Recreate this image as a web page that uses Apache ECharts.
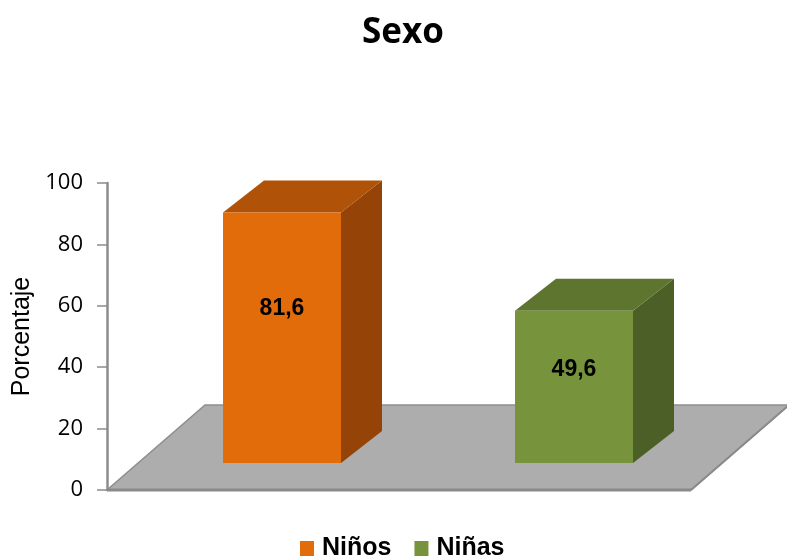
<!DOCTYPE html>
<html>
<head>
<meta charset="utf-8">
<script src="https://cdn.jsdelivr.net/npm/echarts@6/dist/echarts.min.js"></script>
<style>
html,body{margin:0;padding:0;background:#fff;}
#chart{width:787px;height:560px;}
</style>
</head>
<body>
<div id="chart"></div>
<script>
var categories = ['Niños', 'Niñas'];
var values = [81.6, 49.6];
var frontColors = ['#E36C0A', '#77933C'];
var topColors = ['#B05207', '#5E7530'];
var sideColors = ['#954306', '#4B5F26'];
var yTicks = [0, 20, 40, 60, 80, 100];

var DEPTH_SHIFT = [29, -27];   // bar placement inside the floor depth
var BAR_DEPTH = [41, -32];     // bar 3D depth
var FLOOR_DEPTH = [98, -85];   // floor depth
var BAR_W = 118;

function fmt(v) { return v.toFixed(1).replace('.', ','); }

function renderFloor(params, api) {
  var cs = params.coordSys;
  var x0 = cs.x, x1 = cs.x + cs.width, y = cs.y + cs.height;
  var pts = [[x0, y], [x1, y], [x1 + FLOOR_DEPTH[0], y + FLOOR_DEPTH[1]], [x0 + FLOOR_DEPTH[0], y + FLOOR_DEPTH[1]]];
  return {
    type: 'group',
    children: [
      { type: 'polygon', shape: { points: pts }, style: { fill: '#ADADAD', stroke: '#8E8E8E', lineWidth: 1.5 } },
      { type: 'line', shape: { x1: x0, y1: y, x2: x1, y2: y }, style: { stroke: '#8A8A8A', lineWidth: 3 } },
      { type: 'line', shape: { x1: x1, y1: y, x2: x1 + FLOOR_DEPTH[0], y2: y + FLOOR_DEPTH[1] }, style: { stroke: '#8A8A8A', lineWidth: 2 } }
    ]
  };
}

function makeBarRenderer(i) {
  return function (params, api) {
    var idx = api.value(0), val = api.value(1);
    var base = api.coord([idx, 0]);
    var top = api.coord([idx, val]);
    var x0 = base[0] + DEPTH_SHIFT[0] - BAR_W / 2, x1 = x0 + BAR_W;
    var yb = base[1] + DEPTH_SHIFT[1], yt = top[1] + DEPTH_SHIFT[1];
    var dx = BAR_DEPTH[0], dy = BAR_DEPTH[1];
    return {
      type: 'group',
      children: [
        { type: 'polygon', shape: { points: [[x1, yt], [x1, yb], [x1 + dx, yb + dy], [x1 + dx, yt + dy]] }, style: { fill: sideColors[i] } },
        { type: 'polygon', shape: { points: [[x0, yt], [x1, yt], [x1 + dx, yt + dy], [x0 + dx, yt + dy]] }, style: { fill: topColors[i] } },
        { type: 'rect', shape: { x: x0, y: yt, width: BAR_W, height: yb - yt }, style: { fill: frontColors[i] } },
        { type: 'text', x: (x0 + x1) / 2, y: yt + 0.385 * (yb - yt),
          style: { text: fmt(val), fill: '#000', font: 'bold 23px "Liberation Sans", Arial, sans-serif', align: 'center', verticalAlign: 'middle' } }
      ]
    };
  };
}

var series = [{
  type: 'custom',
  name: 'floor',
  renderItem: renderFloor,
  data: [[0, 0]],
  silent: true,
  z: 1
}];
categories.forEach(function (c, i) {
  series.push({
    type: 'custom',
    name: c,
    itemStyle: { color: frontColors[i] },
    renderItem: makeBarRenderer(i),
    data: [[i, values[i]]],
    z: 2
  });
});

var chart = echarts.init(document.getElementById('chart'), null, { renderer: 'canvas' });
chart.setOption({
  animation: false,
  backgroundColor: '#fff',
  title: {
    text: 'Sexo',
    left: 357,
    top: 11,
    textStyle: { fontFamily: '"Open Sans", sans-serif', fontWeight: 'bold', fontSize: 35, color: '#000' }
  },
  legend: {
    data: categories,
    left: 300,
    top: 536,
    padding: 0,
    icon: 'rect',
    itemWidth: 14,
    itemHeight: 15,
    itemGap: 23,
    textStyle: { fontFamily: '"Liberation Sans", Arial, sans-serif', fontWeight: 'bold', fontSize: 25, color: '#000', padding: [0, 0, 0, 3] }
  },
  grid: { left: 107, right: 96, top: 183, bottom: 70 },
  xAxis: {
    type: 'category',
    data: categories,
    axisLine: { show: false },
    axisTick: { show: false },
    axisLabel: { show: false },
    splitLine: { show: false }
  },
  yAxis: {
    type: 'value',
    min: yTicks[0],
    max: yTicks[yTicks.length - 1],
    interval: 20,
    name: 'Porcentaje',
    nameLocation: 'middle',
    nameRotate: 90,
    nameGap: 72,
    nameTextStyle: { fontFamily: '"Liberation Sans", Arial, sans-serif', fontSize: 25, color: '#000' },
    axisLine: { show: true, lineStyle: { color: '#8C8C8C', width: 2.5 } },
    axisTick: { show: true, length: 10, lineStyle: { color: '#8C8C8C', width: 1.5 } },
    axisLabel: { margin: 24, fontFamily: '"Open Sans", sans-serif', fontSize: 22, color: '#000' },
    splitLine: { show: false }
  },
  series: series
});
</script>
</body>
</html>
